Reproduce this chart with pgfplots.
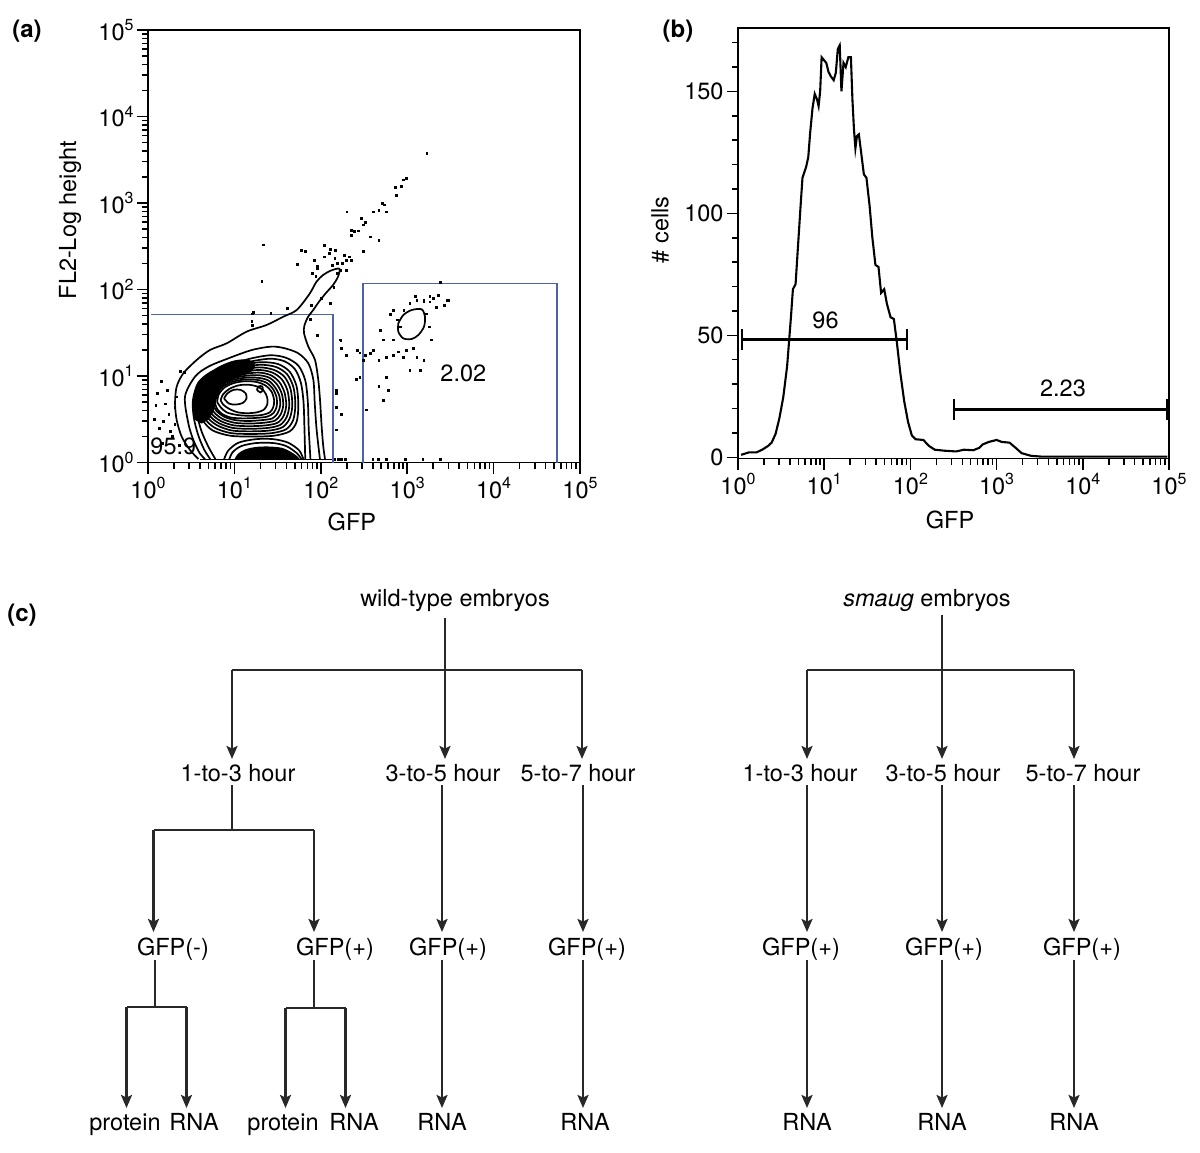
\documentclass[border=0pt]{standalone}
\usepackage{fontspec}
\setmainfont{TeX Gyre Heros}
\usepackage{pgfplots}
\pgfplotsset{compat=1.18}
\usetikzlibrary{arrows.meta}
\definecolor{gateblue}{RGB}{78,98,168}
\definecolor{flow}{RGB}{40,40,40}
\newcommand{\sps}[1]{\raisebox{0.42em}{\fontsize{16}{16}\selectfont #1}}
\newcommand{\fnt}{\fontsize{23.5}{28}\selectfont}
\pgfplotsset{
  common/.style={
    scale only axis, anchor=south west,
    tick align=outside, xtick pos=bottom, ytick pos=left,
    major tick length=11pt, minor tick length=6pt,
    every tick/.style={black, line width=1.5pt},
    axis line style={line width=1.7pt},
    tick label style={font=\fnt},
    label style={font=\fnt},
    /pgf/number format/assume math mode=true,
    xmin=0, xmax=5, xtick={0,1,2,3,4,5},
    xticklabels={10\sps{0},10\sps{1},10\sps{2},10\sps{3},10\sps{4},10\sps{5}},
    minor xtick={0.301,0.477,0.602,0.699,0.778,0.845,0.903,0.954,1.301,1.477,1.602,1.699,1.778,1.845,1.903,1.954,2.301,2.477,2.602,2.699,2.778,2.845,2.903,2.954,3.301,3.477,3.602,3.699,3.778,3.845,3.903,3.954,4.301,4.477,4.602,4.699,4.778,4.845,4.903,4.954},
  },
  cont/.style={black, line width=1.7pt, smooth, tension=0.5},
}
\begin{document}
\begin{tikzpicture}
\path[use as bounding box] (0pt,0pt) rectangle (1200pt,-1152pt);

% ---------------- panel (a)
\begin{axis}[common,
  at={(148pt,-462.5pt)}, width=432pt, height=432.5pt,
  ymin=0, ymax=5, ytick={0,1,2,3,4,5},
  yticklabels={10\sps{0},10\sps{1},10\sps{2},10\sps{3},10\sps{4},10\sps{5}},
  minor ytick={0.301,0.477,0.602,0.699,0.778,0.845,0.903,0.954,1.301,1.477,1.602,1.699,1.778,1.845,1.903,1.954,2.301,2.477,2.602,2.699,2.778,2.845,2.903,2.954,3.301,3.477,3.602,3.699,3.778,3.845,3.903,3.954,4.301,4.477,4.602,4.699,4.778,4.845,4.903,4.954},
  xlabel={GFP}, ylabel={FL2-Log height},
  xlabel style={at={(axis description cs:0.472,-0.1376)}, anchor=center},
  ylabel style={at={(axis description cs:-0.18,0.56)}, anchor=center},
]
% gates
\addplot[gateblue, line width=1.8pt] coordinates {(0.04,1.71) (2.14,1.71) (2.14,0.0)};
\addplot[gateblue, line width=1.8pt] coordinates {(2.485,0.0) (2.485,2.07) (4.73,2.07) (4.73,0.0)};
% dense (dark) regions
\addplot[fill=black, draw=none, smooth] coordinates {(0.53,0.50) (0.52,0.72) (0.57,0.90) (0.68,1.02) (0.84,1.12) (1.00,1.18) (1.16,1.19) (1.24,1.12) (1.18,1.04) (1.04,0.99) (0.92,0.93) (0.84,0.84) (0.79,0.72) (0.76,0.60) (0.70,0.50) (0.62,0.45)};
\addplot[fill=black, draw=none, smooth] coordinates {(1.00,0.035) (1.04,0.10) (1.12,0.15) (1.25,0.18) (1.40,0.185) (1.55,0.17) (1.66,0.12) (1.73,0.07) (1.76,0.035)};
% contours (open at the bottom)
\addplot[cont] coordinates {(0.583,0.04) (0.486,0.145) (0.39,0.299) (0.332,0.491) (0.313,0.684) (0.332,0.877) (0.409,1.031) (0.563,1.185) (0.718,1.301) (0.911,1.378) (1.142,1.513) (1.373,1.59) (1.566,1.686) (1.721,1.763) (1.87,1.95) (1.95,2.09) (2.03,2.17) (2.12,2.22) (2.215,2.24) (2.2,2.15) (2.14,2.05) (2.06,1.96) (1.98,1.86) (1.91,1.76) (1.85,1.68) (1.81,1.58) (1.806,1.493) (1.856,1.339) (1.933,1.185) (1.971,0.954) (1.991,0.723) (2.01,0.414) (2.029,0.183) (2.049,0.037)};
\addplot[cont] coordinates {(0.66,0.04) (0.6,0.106) (0.525,0.26) (0.467,0.453) (0.428,0.761) (0.544,0.992) (0.698,1.108) (0.93,1.204) (1.2,1.30) (1.43,1.34) (1.585,1.32) (1.74,1.262) (1.856,1.146) (1.914,0.954) (1.93,0.684) (1.952,0.376) (1.99,0.04)};
\addplot[cont] coordinates {(0.72,0.04) (0.65,0.15) (0.58,0.32) (0.53,0.52) (0.52,0.72) (0.58,0.92) (0.72,1.04) (0.93,1.12) (1.18,1.20) (1.42,1.24) (1.6,1.21) (1.74,1.12) (1.82,0.95) (1.85,0.70) (1.86,0.40) (1.88,0.04)};
\addplot[cont] coordinates {(0.78,0.04) (0.70,0.18) (0.62,0.36) (0.57,0.55) (0.56,0.74) (0.62,0.92) (0.76,1.03) (0.96,1.10) (1.20,1.17) (1.42,1.20) (1.58,1.17) (1.70,1.08) (1.77,0.92) (1.80,0.70) (1.81,0.42) (1.82,0.04)};
% closed contours round the main peak
\addplot[cont] coordinates {(0.60,0.62) (0.62,0.82) (0.72,0.97) (0.88,1.06) (1.08,1.12) (1.30,1.16) (1.50,1.14) (1.64,1.05) (1.72,0.88) (1.74,0.66) (1.72,0.47) (1.64,0.36) (1.46,0.31) (1.20,0.30) (0.95,0.31) (0.75,0.37) (0.64,0.48) (0.60,0.62)};
\addplot[cont] coordinates {(0.625,0.63) (0.645,0.815) (0.74,0.955) (0.895,1.04) (1.085,1.095) (1.295,1.13) (1.48,1.105) (1.61,1.02) (1.685,0.865) (1.705,0.66) (1.68,0.49) (1.60,0.385) (1.435,0.34) (1.195,0.33) (0.96,0.34) (0.775,0.40) (0.665,0.50) (0.625,0.63)};
\addplot[cont] coordinates {(0.65,0.64) (0.67,0.81) (0.76,0.94) (0.91,1.02) (1.09,1.07) (1.29,1.10) (1.46,1.07) (1.58,0.99) (1.65,0.85) (1.67,0.66) (1.64,0.51) (1.56,0.41) (1.41,0.37) (1.19,0.36) (0.97,0.37) (0.80,0.43) (0.69,0.52) (0.65,0.64)};
\addplot[cont] coordinates {(0.675,0.65) (0.695,0.805) (0.78,0.925) (0.925,1.00) (1.095,1.045) (1.285,1.07) (1.44,1.04) (1.55,0.96) (1.615,0.83) (1.635,0.66) (1.605,0.525) (1.53,0.435) (1.39,0.40) (1.185,0.39) (0.98,0.40) (0.82,0.455) (0.715,0.54) (0.675,0.65)};
\addplot[cont] coordinates {(0.70,0.66) (0.72,0.80) (0.80,0.91) (0.94,0.98) (1.10,1.02) (1.28,1.04) (1.42,1.01) (1.52,0.93) (1.58,0.81) (1.60,0.66) (1.57,0.54) (1.50,0.46) (1.37,0.43) (1.18,0.42) (0.99,0.43) (0.84,0.48) (0.74,0.56) (0.70,0.66)};
\addplot[cont] coordinates {(0.725,0.67) (0.745,0.795) (0.825,0.90) (0.955,0.965) (1.11,1.00) (1.275,1.01) (1.405,0.98) (1.495,0.90) (1.55,0.79) (1.565,0.66) (1.535,0.555) (1.47,0.485) (1.345,0.46) (1.17,0.45) (1.00,0.46) (0.86,0.505) (0.765,0.58) (0.725,0.67)};
\addplot[cont] coordinates {(0.75,0.68) (0.77,0.79) (0.85,0.89) (0.97,0.95) (1.12,0.98) (1.27,0.98) (1.39,0.95) (1.47,0.87) (1.52,0.77) (1.53,0.66) (1.50,0.57) (1.44,0.51) (1.32,0.49) (1.16,0.48) (1.01,0.49) (0.88,0.53) (0.79,0.60) (0.75,0.68)};
\addplot[cont] coordinates {(0.775,0.69) (0.795,0.79) (0.87,0.88) (0.985,0.935) (1.125,0.96) (1.265,0.955) (1.375,0.92) (1.45,0.845) (1.49,0.745) (1.49,0.65) (1.455,0.575) (1.38,0.53) (1.245,0.515) (1.10,0.51) (0.96,0.52) (0.86,0.56) (0.80,0.62) (0.775,0.69)};
\addplot[cont] coordinates {(0.80,0.70) (0.82,0.79) (0.89,0.87) (1.00,0.92) (1.13,0.94) (1.26,0.93) (1.36,0.89) (1.43,0.82) (1.46,0.72) (1.45,0.64) (1.41,0.58) (1.32,0.55) (1.17,0.54) (1.03,0.55) (0.91,0.58) (0.84,0.64) (0.80,0.70)};
\addplot[cont] coordinates {(0.84,0.72) (0.87,0.79) (0.94,0.85) (1.04,0.89) (1.15,0.90) (1.26,0.88) (1.34,0.83) (1.38,0.75) (1.38,0.67) (1.34,0.61) (1.26,0.58) (1.15,0.57) (1.04,0.58) (0.94,0.62) (0.87,0.67) (0.84,0.72)};
\addplot[cont] coordinates {(0.88,0.74) (0.92,0.80) (0.99,0.84) (1.07,0.84) (1.13,0.80) (1.14,0.74) (1.10,0.69) (1.02,0.67) (0.94,0.68) (0.88,0.74)};
\addplot[cont] coordinates {(1.26,0.84) (1.28,0.88) (1.32,0.88) (1.33,0.84) (1.30,0.81) (1.26,0.84)};
% contours round the low peak
\addplot[cont] coordinates {(0.88,0.035) (0.93,0.14) (1.05,0.23) (1.25,0.27) (1.45,0.27) (1.62,0.23) (1.75,0.14) (1.80,0.035)};
\addplot[cont] coordinates {(0.94,0.035) (0.98,0.12) (1.08,0.19) (1.25,0.225) (1.45,0.225) (1.60,0.19) (1.72,0.11) (1.78,0.035)};
\addplot[black, line width=1.6pt] coordinates {(0.60,0.035) (2.13,0.035)};
% gate 2 cluster contour
\addplot[cont] coordinates {(2.897,1.609) (2.955,1.705) (3.052,1.763) (3.167,1.771) (3.206,1.686) (3.194,1.570) (3.129,1.474) (3.052,1.428) (2.955,1.435) (2.897,1.513) (2.897,1.609)};
% single events
\addplot[only marks, mark=square*, mark size=0.9pt, black] table {
3.225 3.575
2.986 3.285
2.955 3.27
2.93 3.19
2.87 3.09
2.86 3.18
2.71 2.995
2.73 2.98
2.67 2.92
2.76 2.90
2.61 2.90
2.30 2.90
2.47 2.82
2.51 2.78
2.49 2.75
2.35 2.69
2.39 2.67
2.35 2.63
2.43 2.68
2.57 2.61
2.67 2.57
2.49 2.44
2.04 2.51
1.77 2.45
2.11 2.47
2.17 2.45
2.10 2.42
2.04 2.38
2.16 2.36
2.27 2.40
2.33 2.38
2.29 2.34
2.35 2.34
1.92 2.34
2.19 2.30
2.25 2.30
2.13 2.28
2.23 2.22
2.29 2.22
1.96 2.27
1.90 2.19
1.94 2.15
2.19 2.19
2.15 2.03
2.11 1.84
2.00 1.90
1.89 1.82
1.337 2.518
1.315 2.10
1.73 2.29
1.82 2.44
1.955 2.25
1.21 1.72
1.21 1.59
1.42 1.73
1.61 1.78
1.88 1.66
1.955 1.47
2.18 0.80
2.18 0.64
2.18 0.38
2.24 0.56
2.23 1.41
2.29 1.24
2.41 0.96
2.45 1.27
2.22 1.42
2.24 1.32
2.18 0.84
2.16 0.035
2.20 0.035
2.24 0.035
2.28 0.035
3.38 2.08
3.09 1.92
3.19 1.88
3.26 1.86
3.30 1.90
3.36 1.93
3.47 1.88
3.43 1.82
3.34 1.80
2.685 1.53
2.72 1.42
2.61 1.30
2.57 1.26
2.67 1.18
2.76 1.22
2.84 1.24
2.90 1.28
2.955 1.22
2.99 1.30
3.07 1.32
3.11 1.22
3.15 1.07
3.19 1.18
3.03 1.07
2.84 1.42
2.92 1.57
2.88 1.65
2.96 1.76
3.03 1.84
3.11 1.88
3.19 1.86
3.26 1.92
3.36 1.94
3.46 1.88
3.22 1.72
3.25 1.57
3.28 1.42
2.76 0.99
2.67 0.88
2.78 0.84
2.72 0.72
2.51 1.24
2.49 1.18
2.45 0.99
2.42 1.30
2.53 0.61
2.84 1.76
2.80 1.71
2.60 0.035
2.66 0.035
2.76 0.035
2.98 0.035
3.18 0.035
3.38 0.035
0.11 0.80
0.15 0.94
0.20 0.68
0.09 0.66
0.24 0.56
0.18 0.48
0.31 0.64
0.13 0.40
0.26 0.36
0.375 1.06
0.42 1.04
0.07 0.50
0.22 0.84
0.33 0.76
0.31 0.44
0.28 0.30
0.16 0.22
0.36 0.20
1.22 1.74
1.20 1.63
};
\node[font=\fnt] at (axis cs:0.293,0.19) {95.9};
\node[font=\fnt] at (axis cs:3.65,1.03) {2.02};
\end{axis}

% ---------------- panel (b)
\begin{axis}[common,
  at={(738pt,-458.5pt)}, width=431pt, height=430.5pt,
  ymin=-0.5, ymax=176, ytick={0,50,100,150}, yticklabels={0,50,100,150},
  minor ytick={10,20,30,40,60,70,80,90,110,120,130,140,160,170},
  xlabel={GFP}, ylabel={\# cells},
  xlabel style={at={(axis description cs:0.492,-0.143)}, anchor=center},
  ylabel style={at={(axis description cs:-0.181,0.531)}, anchor=center},
]
\addplot[black, line width=2.1pt] coordinates {
(0.036,1) (0.125,2) (0.214,2) (0.28,3.1) (0.347,4.6) (0.39,6) (0.436,9.6)
(0.48,16) (0.525,24.6) (0.57,37.4) (0.614,57.4) (0.637,68.9) (0.668,71)
(0.695,86) (0.726,103) (0.748,114.6) (0.79,119) (0.815,123) (0.837,133)
(0.864,143) (0.89,149) (0.917,146.7) (0.935,144) (0.953,150) (0.97,164)
(0.993,163) (1.024,161.7) (1.05,158) (1.08,156) (1.11,154.6) (1.135,157.7)
(1.158,167.4) (1.18,168.9) (1.2,150) (1.224,161.7) (1.25,160) (1.28,164)
(1.31,164) (1.327,147) (1.345,134.6) (1.362,126.7) (1.38,131.7) (1.402,132.4)
(1.425,126) (1.46,116) (1.49,114.6) (1.527,103) (1.558,90.3) (1.594,78.9)
(1.63,78) (1.66,67.4) (1.696,68.9) (1.727,63) (1.77,57.4) (1.808,56.7)
(1.84,48) (1.883,34.6) (1.928,23) (1.972,14.6) (2.017,8.9) (2.06,7.4)
(2.15,7.1) (2.217,4.6) (2.284,3.1) (2.395,2.7) (2.53,2.4) (2.62,3.1)
(2.73,2.9) (2.8,3.9) (2.84,5.3) (2.91,6.3) (3.0,7.1) (3.06,6.3) (3.15,6)
(3.22,3.9) (3.29,1.7) (3.4,0.6) (3.51,0.3) (4.98,0.3)};
\addplot[black, line width=3pt] coordinates {(0.05,48.4) (1.957,48.4)};
\addplot[black, line width=1.8pt] coordinates {(0.05,44.1) (0.05,52.7)};
\addplot[black, line width=1.8pt] coordinates {(1.957,44.1) (1.957,52.7)};
\addplot[black, line width=3pt] coordinates {(2.507,19.5) (4.98,19.5)};
\addplot[black, line width=1.8pt] coordinates {(2.507,15.2) (2.507,23.8)};
\addplot[black, line width=1.8pt] coordinates {(4.98,15.2) (4.98,23.8)};
\node[font=\fnt] at (axis cs:1.015,56) {96};
\node[font=\fnt] at (axis cs:3.77,28.4) {2.23};
\end{axis}

% ---------------- panel labels
\node[font=\fontsize{24}{28}\selectfont\bfseries] at (27pt,-31pt) {(a)};
\node[font=\fontsize{24}{28}\selectfont\bfseries] at (678pt,-31pt) {(b)};
\node[font=\fontsize{24}{28}\selectfont\bfseries] at (22pt,-615pt) {(c)};

% ---------------- panel (c) flowchart
\begin{scope}[x=1pt, y=-1pt, font=\fnt, inner sep=0pt]
\tikzset{ar/.style={flow, line width=2.2pt, -{Stealth[length=13pt,width=11pt,inset=2.5pt]}},
         ln/.style={flow, line width=2.2pt},
         t/.style={anchor=base}}
% texts (base lines)
\node[t] at (455,606.5) {wild-type embryos};
\node[t] at (927,606.5) {\textit{smaug} embryos};
\node[t] at (238,781.5) {1-to-3 hour};
\node[t] at (443,781.5) {3-to-5 hour};
\node[t] at (578,781.5) {5-to-7 hour};
\node[t] at (800,781.5) {1-to-3 hour};
\node[t] at (943,781.5) {3-to-5 hour};
\node[t] at (1083,781.5) {5-to-7 hour};
\node[t] at (173,955.5) {GFP(-)};
\node[t] at (335,955.5) {GFP(+)};
\node[t] at (448,955.5) {GFP(+)};
\node[t] at (587,955.5) {GFP(+)};
\node[t] at (801,955.5) {GFP(+)};
\node[t] at (944,955.5) {GFP(+)};
\node[t] at (1082,955.5) {GFP(+)};
\node[t] at (125,1130.5) {protein};
\node[t] at (194,1130.5) {RNA};
\node[t] at (283,1130.5) {protein};
\node[t] at (354,1130.5) {RNA};
\node[t] at (442,1130.5) {RNA};
\node[t] at (585,1130.5) {RNA};
\node[t] at (807,1130.5) {RNA};
\node[t] at (942,1130.5) {RNA};
\node[t] at (1074,1130.5) {RNA};
% wild-type tree
\draw[ar] (445,618) -- (445,759);
\draw[ln] (232,670) -- (582,670);
\draw[ar] (232,670) -- (232,759);
\draw[ar] (582,670) -- (582,759);
\draw[ln] (232,785) -- (232,830);
\draw[ln] (153.5,830) -- (314,830);
\draw[ar] (153.5,830) -- (153.5,932);
\draw[ar] (314,830) -- (314,932);
\draw[ar] (442,785) -- (442,932);
\draw[ar] (583,785) -- (583,932);
\draw[ln] (155,960) -- (155,1007);
\draw[ln] (126.5,1007) -- (186.5,1007);
\draw[ar] (126.5,1007) -- (126.5,1108);
\draw[ar] (186.5,1007) -- (186.5,1108);
\draw[ln] (314,960) -- (314,1008);
\draw[ln] (285.5,1008) -- (345.5,1008);
\draw[ar] (285.5,1008) -- (285.5,1108);
\draw[ar] (345.5,1008) -- (345.5,1108);
\draw[ar] (442,960) -- (442,1108);
\draw[ar] (583,960) -- (583,1108);
% smaug tree
\draw[ar] (942,615) -- (942,759);
\draw[ln] (807,670) -- (1074,670);
\draw[ar] (807,670) -- (807,759);
\draw[ar] (1074,670) -- (1074,759);
\draw[ar] (807,785) -- (807,932);
\draw[ar] (942,785) -- (942,932);
\draw[ar] (1074,785) -- (1074,932);
\draw[ar] (807,960) -- (807,1108);
\draw[ar] (942,960) -- (942,1108);
\draw[ar] (1074,960) -- (1074,1108);
\end{scope}
\end{tikzpicture}
\end{document}
